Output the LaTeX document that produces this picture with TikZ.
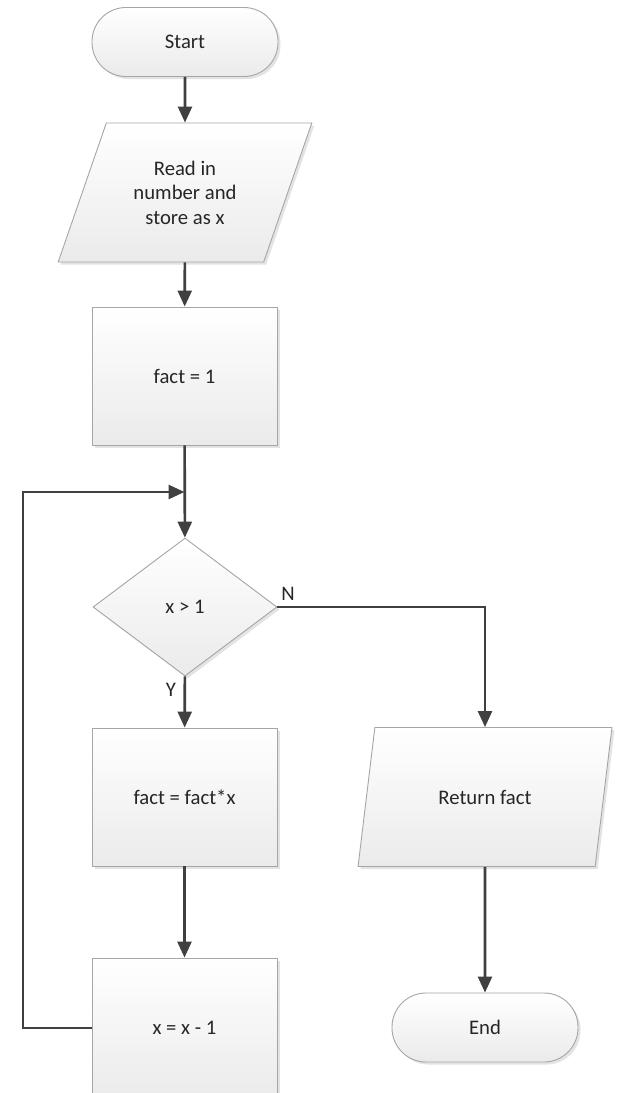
\documentclass[tikz,border=0pt]{standalone}
\usepackage{fontspec}
\setmainfont{Carlito}
\usetikzlibrary{shapes.geometric,arrows.meta,shadows}
\definecolor{conncol}{HTML}{404040}
\definecolor{bordercol}{HTML}{A6A6A6}
\definecolor{textcol}{HTML}{262626}
\tikzset{
  shapebase/.style={draw=bordercol, line width=0.9pt, top color=white, bottom color=black!8,
    text=textcol, font=\fontsize{20.7}{24.5}\selectfont, align=center, inner sep=0pt,
    drop shadow={shadow xshift=2.5pt, shadow yshift=-2.5pt, fill=black!18, opacity=0.6}},
  procbox/.style={shapebase, rectangle, minimum width=185pt, minimum height=138pt},
  termbox/.style={shapebase, rectangle, rounded corners=34pt, minimum width=186pt, minimum height=69pt},
  iobox/.style={shapebase, trapezium, trapezium left angle=63.6, trapezium right angle=116.4,
    trapezium stretches=true, minimum width=254pt, minimum height=139pt},
  decbox/.style={shapebase, diamond, minimum width=184pt, minimum height=138pt},
  conn/.style={draw=conncol, line width=2.6pt, -{Triangle[width=14pt,length=16pt]}},
  plainconn/.style={draw=conncol, line width=2.6pt},
  lbl/.style={text=textcol, font=\fontsize{20.7}{24.5}\selectfont, inner sep=0pt}
}
\begin{document}
\begin{tikzpicture}[x=1pt,y=-1pt]
\useasboundingbox[fill=white] (0,0) rectangle (617,1093);
\node[termbox] (start) at (185,42) {Start};
\node[iobox] (read) at (185,192.5) {Read in\\number and\\store as x};
\node[procbox] (fact1) at (184.5,376) {fact = 1};
\node[decbox] (dec) at (185,607) {x > 1};
\node[procbox] (mult) at (184.5,797) {fact = fact*x};
\node[procbox, minimum height=140pt] (decx) at (184.5,1028) {x = x - 1};
\node[iobox] (ret) at (485,797) {Return fact};
\node[termbox] (end) at (485,1027.5) {End};
\coordinate (join) at (184.5,492);
\coordinate (loopc) at (23,1028);
\node[lbl] (nl) at (288,594) {N};
\node[lbl] (yl) at (171,690) {Y};
\draw[conn] (start) -- (read);
\draw[conn] (read) -- (fact1);
\draw[conn] (fact1) -- (dec);
\draw[conn] (decx.west) -- (loopc) |- (join);
\draw[conn] (dec) -- (mult);
\draw[conn] (mult) -- (decx);
\draw[conn] (dec.east) -| (ret.north);
\draw[conn] (ret) -- (end);
\end{tikzpicture}
\end{document}
